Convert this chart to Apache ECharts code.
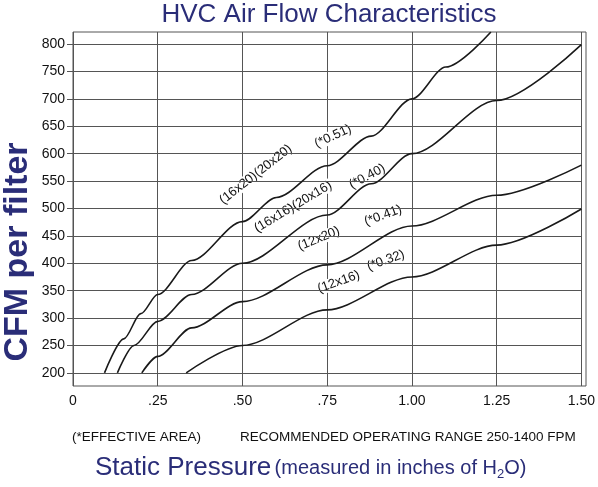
<!DOCTYPE html><html><head><meta charset="utf-8"><script src="https://cdn.jsdelivr.net/npm/echarts@6/dist/echarts.min.js"></script>
<style>html,body{margin:0;padding:0;background:#fff}#c{width:598px;height:487px}</style></head><body><div id="c"></div>
<script>
const xTicks=[0,0.25,0.5,0.75,1.0,1.25,1.5];
const xTickLabels=['0','.25','.50','.75','1.00','1.25','1.50'];
const yTicks=[200,250,300,350,400,450,500,550,600,650,700,750,800];
const curveA=[[0.093,200],[0.15,262],[0.2,308],[0.25,343],[0.35,405],[0.5,476],[0.6,520],[0.75,578],[0.88,632],[1.0,700],[1.1,758],[1.233,822]];
const curveB=[[0.131,200],[0.18,250],[0.25,294],[0.35,343],[0.5,400],[0.75,488],[0.88,545],[1.0,600],[1.25,697],[1.5,799]];
const curveC=[[0.203,200],[0.25,230],[0.35,282],[0.5,330],[0.75,397],[1.0,468],[1.25,524],[1.5,579]];
const curveD=[[0.334,200],[0.5,250],[0.75,315],[1.0,375],[1.25,433],[1.5,499]];
const curveLabels=['(16x20)(20x20)','(*0.51)','(16x16)(20x16)','(*0.40)','(12x20)','(*0.41)','(12x16)','(*0.32)'];
const labelAnchors=[[0.552,552],[0.776,620],[0.660,492],[0.878,547],[0.733,433],[0.922,475],[0.791,354],[0.930,393]];
const labelAngles=[38,25,31,28,22,20,20,20];
const navy='#2a2d78';
const ch=echarts.init(document.getElementById('c'));
const lineS=(d)=>({type:'line',data:d,smooth:0.3,smoothMonotone:'x',symbol:'none',lineStyle:{color:'#1a1a1a',width:1.6},z:5});
ch.setOption({
 animation:false,
 grid:{left:73,right:12,top:32,bottom:101},
 title:{text:'HVC Air Flow Characteristics',left:324,top:-3,textAlign:'center',textStyle:{color:navy,fontSize:26,fontWeight:'normal',fontFamily:'Liberation Sans'}},
 xAxis:{type:'value',min:0,max:1.5,interval:0.25,axisLine:{show:false},axisTick:{show:false},
  splitLine:{show:true,lineStyle:{color:'#555',width:1}},
  axisLabel:{margin:8,color:'#111',fontSize:14,fontFamily:'Liberation Sans',formatter:v=>{const i=xTicks.findIndex(t=>Math.abs(t-v)<1e-6);return i>=0?xTickLabels[i]:'';}}},
 yAxis:{type:'value',min:176,max:822,axisLine:{show:false},splitLine:{show:false},
  axisTick:{show:true,customValues:yTicks,length:6,lineStyle:{color:'#555'}},
  axisLabel:{customValues:yTicks,color:'#111',fontSize:14,fontFamily:'Liberation Sans',margin:8}},
 series:[
  {type:'line',data:[],markLine:{silent:true,symbol:'none',label:{show:false},lineStyle:{color:'#555',width:1,type:'solid'},data:yTicks.map(v=>({yAxis:v}))}},
  lineS(curveA),lineS(curveB),lineS(curveC),lineS(curveD)
 ]
});
const g=[{type:'rect',shape:{x:73,y:32,width:513,height:354},style:{fill:'none',stroke:'#555',lineWidth:1},z:1}];
curveLabels.forEach((t,i)=>{const p=ch.convertToPixel({gridIndex:0},labelAnchors[i]);const a=labelAngles[i]*Math.PI/180;
 g.push({type:'text',x:p[0]-7*Math.sin(a),y:p[1]-7*Math.cos(a),rotation:a,z:4,style:{text:t,align:'center',verticalAlign:'middle',fontSize:13,fontFamily:'Liberation Sans',fill:'#111',backgroundColor:'#fff',padding:[0,3]}});});
g.push({type:'text',x:72,y:437,style:{text:'(*EFFECTIVE AREA)',fontSize:13.5,fontFamily:'Liberation Sans',fill:'#111',verticalAlign:'middle'}});
g.push({type:'text',x:240,y:437,style:{text:'RECOMMENDED OPERATING RANGE 250-1400 FPM',fontSize:13.5,fontFamily:'Liberation Sans',fill:'#111',verticalAlign:'middle'}});
g.push({type:'text',x:18,y:252,rotation:Math.PI/2,style:{text:'CFM per filter',align:'center',verticalAlign:'middle',fontSize:34,fontWeight:'bold',fontFamily:'Liberation Sans',fill:navy}});
g.push({type:'text',x:95,y:468,style:{text:'{a|Static Pressure} {b|(measured in inches of H}{s|2}{b|O)}',verticalAlign:'middle',rich:{a:{fontSize:26,fontFamily:'Liberation Sans',fill:navy},b:{fontSize:20,fontFamily:'Liberation Sans',fill:navy},s:{fontSize:13,fontFamily:'Liberation Sans',fill:navy,padding:[12,0,0,0]}}}});
ch.setOption({graphic:g});
</script></body></html>
